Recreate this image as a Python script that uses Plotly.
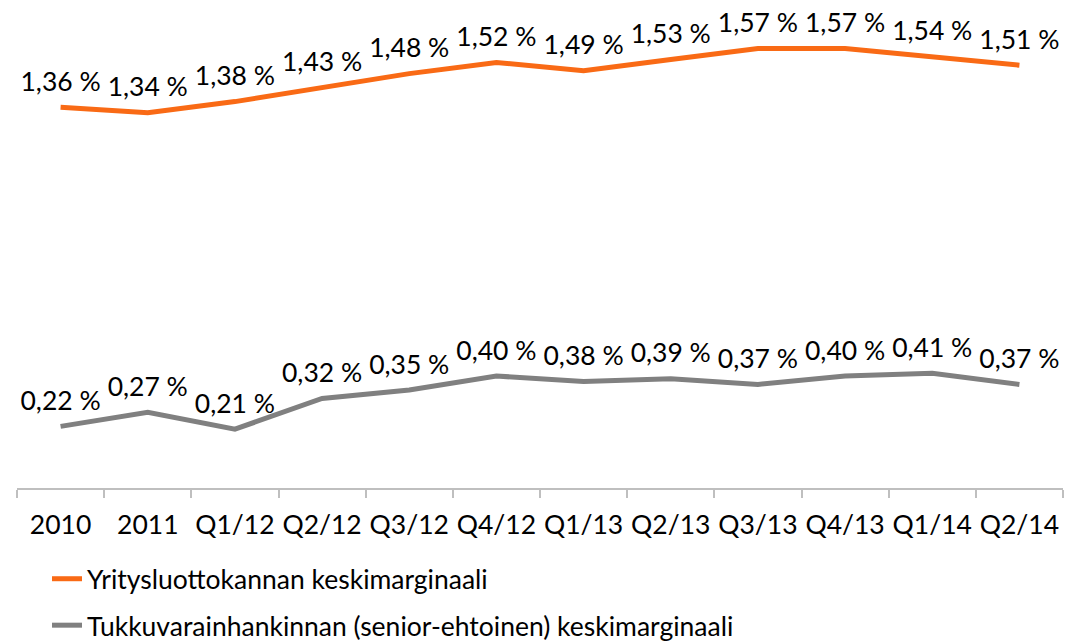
import plotly.graph_objects as go

categories = ["2010", "2011", "Q1/12", "Q2/12", "Q3/12", "Q4/12", "Q1/13", "Q2/13",
              "Q3/13", "Q4/13", "Q1/14", "Q2/14"]
yritys = [1.36, 1.34, 1.38, 1.43, 1.48, 1.52, 1.49, 1.53, 1.57, 1.57, 1.54, 1.51]
tukku = [0.22, 0.27, 0.21, 0.32, 0.35, 0.40, 0.38, 0.39, 0.37, 0.40, 0.41, 0.37]
names = ["Yritysluottokannan keskimarginaali",
         "Tukkuvarainhankinnan (senior-ehtoinen) keskimarginaali"]

def fmt(v):
    return f"{v:.2f}".replace(".", ",") + " %"

FONT = "Lato, Calibri, sans-serif"
FS = 26.5

fig = go.Figure()
for vals, name, color, grp in [(yritys, names[0], "#F96A15", "a"), (tukku, names[1], "#808080", "b")]:
    fig.add_trace(go.Scatter(
        x=categories, y=vals, name=name, mode="lines+markers+text",
        line=dict(color=color, width=5),
        marker=dict(size=14, color="rgba(0,0,0,0)"),
        text=[fmt(v) for v in vals], textposition="top center",
        textfont=dict(family=FONT, size=FS, color="#000000"),
        cliponaxis=False, legendgroup=grp,
    ))

# page body has an 8px default margin, so the figure starts at (8, 8) in the window
H = 636
fig.update_layout(
    width=1066, height=H,
    margin=dict(l=9, r=11, t=18, b=H - 480, autoexpand=False),
    paper_bgcolor="white", plot_bgcolor="white",
    font=dict(family=FONT, size=FS, color="#000000"),
    showlegend=True,
    legend=dict(x=0.0366, y=1 - 547 / H, xref="container", yref="container",
                xanchor="left", yanchor="top",
                orientation="v", traceorder="grouped", tracegroupgap=9,
                font=dict(family=FONT, size=FS, color="#000000"),
                itemwidth=30, bgcolor="rgba(0,0,0,0)"),
    xaxis=dict(type="category", range=[-0.5, 11.5], autorange=False,
               showgrid=False, showline=True, linecolor="#BFBFBF",
               linewidth=1.5, ticks="outside", tickson="boundaries", ticklen=8,
               tickcolor="#BFBFBF", tickwidth=1.5, ticklabelstandoff=12,
               tickangle=0, automargin=False,
               tickfont=dict(family=FONT, size=FS, color="#000000")),
    yaxis=dict(range=[0, 1.65], visible=False, showgrid=False, zeroline=False,
               automargin=False),
)

fig.write_html("out.html")
